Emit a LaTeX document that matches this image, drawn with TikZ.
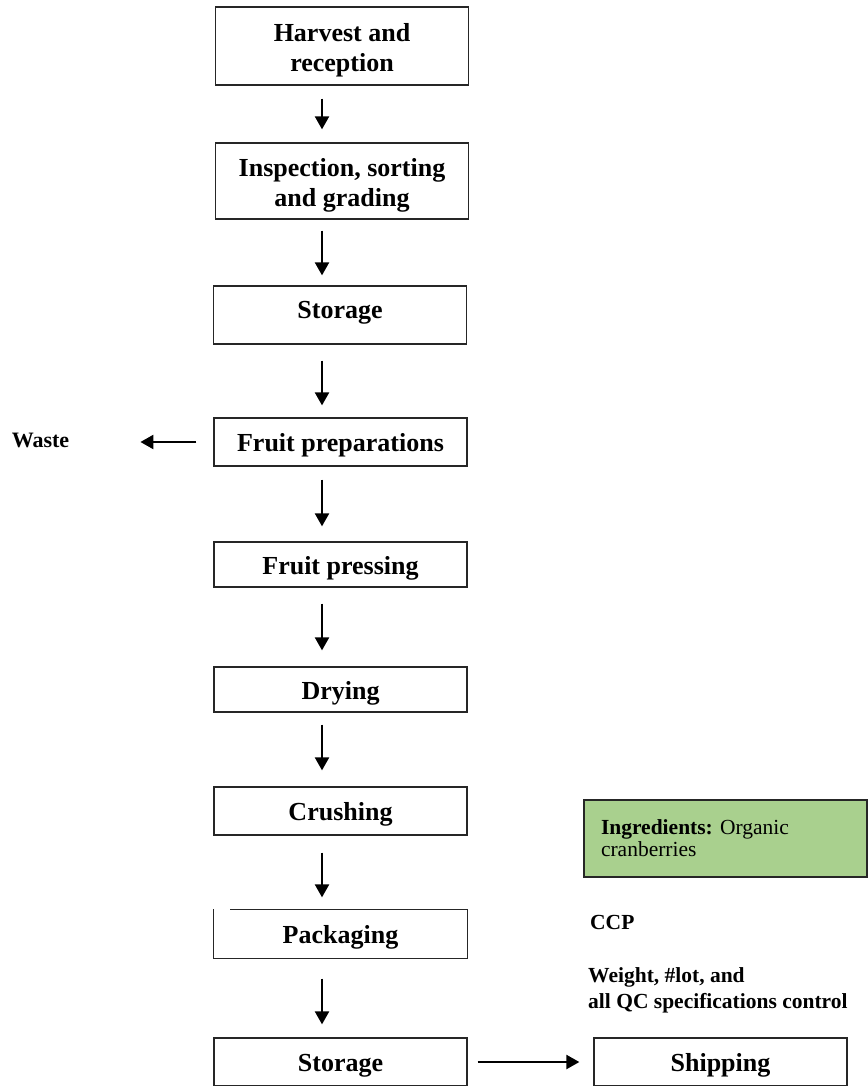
\documentclass[tikz,border=0pt]{standalone}
\usepackage{fontspec}
\setmainfont{Liberation Serif}
\usetikzlibrary{arrows.meta,calc}
\definecolor{ingreen}{HTML}{A9D08E}
\frenchspacing
\tikzset{
  stepbox/.style={draw=black!85,line width=1.3pt,minimum width=253pt,inner sep=0pt,align=center,
    font=\fontsize{26}{30}\selectfont\bfseries},
  oneline/.style={text height=24pt,text depth=5pt},
  twolines/.style={text height=20pt,text depth=28pt},
  arr/.style={line width=2.3pt,-{Triangle[length=13pt,width=14pt]}},
  note/.style={inner sep=0pt,align=left,font=\fontsize{21.5}{26}\selectfont\bfseries},
}
\begin{document}
\begin{tikzpicture}[x=1pt,y=-1pt]
\useasboundingbox (0,0) rectangle (867,1086);
\coordinate (ax) at (322,0);
\node[stepbox,twolines,minimum height=78pt] (b1) at (342,46) {\begin{tabular}[t]{@{}c@{}}Harvest and\\reception\end{tabular}};
\node[stepbox,twolines,minimum height=76pt] (b2) at (342,181) {\begin{tabular}[t]{@{}c@{}}Inspection, sorting\\and grading\end{tabular}};
\node[stepbox,minimum height=58pt,text height=20pt,text depth=13pt] (b3) at (340,315) {Storage};
\node[stepbox,oneline,minimum height=48pt] (b4) at (340.5,442) {Fruit preparations};
\node[stepbox,oneline,minimum height=45pt] (b5) at (340.5,564.5) {Fruit pressing};
\node[stepbox,oneline,minimum height=45pt] (b6) at (340.5,689.5) {Drying};
\node[stepbox,oneline,minimum height=48pt] (b7) at (340.5,811) {Crushing};
\node[stepbox,oneline,draw=none,minimum height=48pt] (b8) at (340.5,934) {Packaging};
\draw[draw=black!85,line width=1.3pt] ($(b8.north west)+(17,0)$) -- (b8.north east) -- (b8.south east) -- (b8.south west) -- (b8.north west);
\node[stepbox,oneline,minimum height=48pt] (b9) at (340.5,1062) {Storage};
\node[stepbox,oneline,minimum height=48pt] (ship) at (720.5,1062) {Shipping};
\node[note,font=\fontsize{22}{26}\selectfont\bfseries] (waste) at (40.5,440) {Waste};
\node[draw=black!85,line width=1.3pt,fill=ingreen,minimum width=283pt,minimum height=77pt,
  text width=249pt,inner xsep=17pt,inner ysep=0pt,align=left,font=\fontsize{21.5}{22}\selectfont] (ing) at (725.5,838.5)
  {\textbf{Ingredients:} Organic\\cranberries};
\node[note,anchor=west] (ccp) at (590,922) {CCP};
\node[note,anchor=north west] (qc) at (588,967) {Weight, \#lot, and\\all QC specifications control};
\draw[arr,shorten <=13pt,shorten >=13pt] (b1.south -| ax) -- (b2.north -| ax);
\draw[arr,shorten <=11pt,shorten >=10pt] (b2.south -| ax) -- (b3.north -| ax);
\draw[arr,shorten <=16pt,shorten >=12pt] (b3.south -| ax) -- (b4.north -| ax);
\draw[arr,shorten <=13pt,shorten >=15pt] (b4.south -| ax) -- (b5.north -| ax);
\draw[arr,shorten <=16pt,shorten >=16pt] (b5.south -| ax) -- (b6.north -| ax);
\draw[arr,shorten <=12pt,shorten >=16pt] (b6.south -| ax) -- (b7.north -| ax);
\draw[arr,shorten <=17pt,shorten >=12pt] (b7.south -| ax) -- (b8.north -| ax);
\draw[arr,shorten <=20pt,shorten >=13pt] (b8.south -| ax) -- (b9.north -| ax);
\draw[arr,shorten <=10pt,shorten >=14pt] (b9.east) -- (ship.west);
\draw[arr,shorten <=17pt,shorten >=71pt] (b4.west) -- (b4.west -| waste.east);
\end{tikzpicture}
\end{document}
